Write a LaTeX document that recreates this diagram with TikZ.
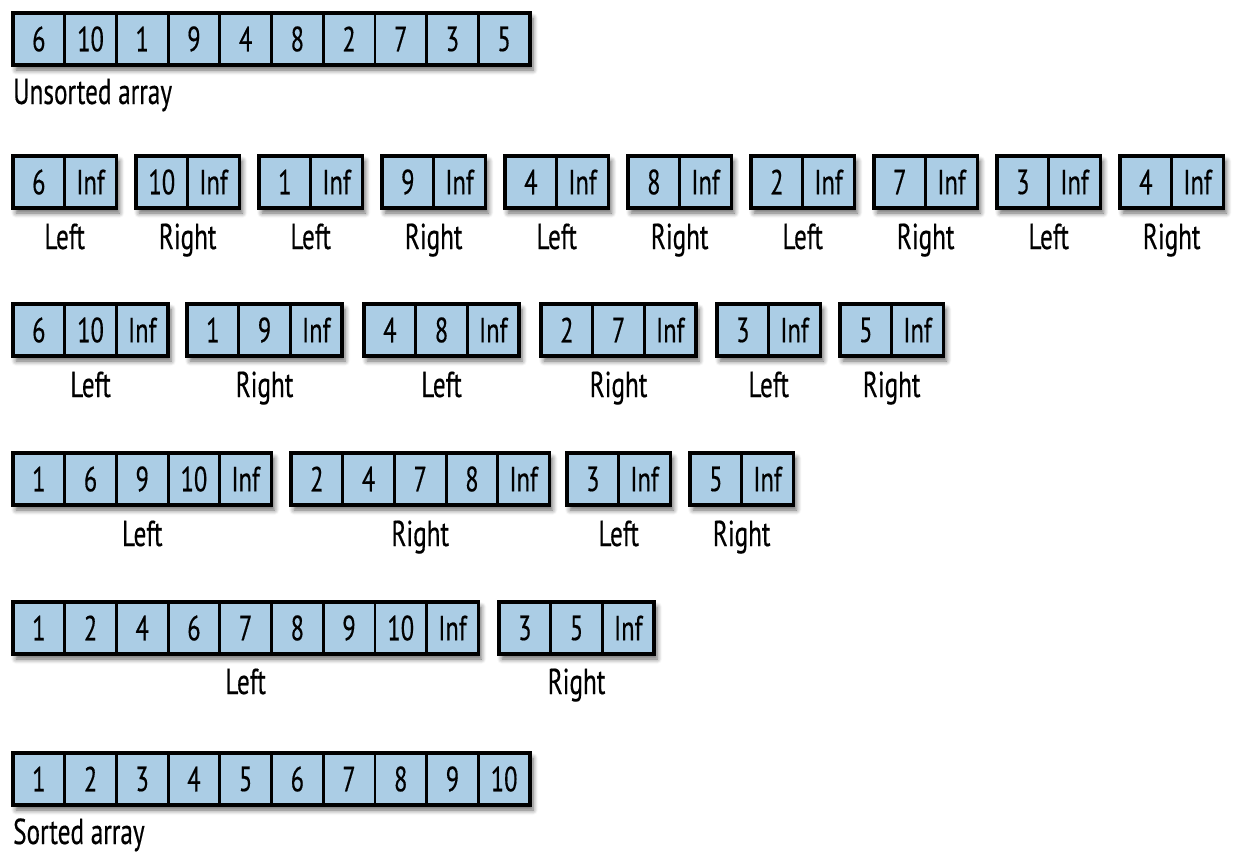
\documentclass[tikz,border=0pt]{standalone}
\usepackage{fontspec}
\setmainfont[FakeStretch=0.7,FakeBold=0.4]{PT Sans}
\usetikzlibrary{shadows.blur}
\definecolor{cellblue}{RGB}{171,205,229}
\tikzset{
  x=1pt,y=-1pt,
  groupbox/.style={fill=cellblue,draw=black,line width=3.6pt,
    blur shadow={shadow xshift=3pt,shadow yshift=-5pt,shadow blur radius=5pt,shadow blur steps=6,shadow opacity=60}},
  cell/.style={draw=black,line width=2.8pt,minimum width=51.7pt,minimum height=52pt,
    inner sep=0pt,outer sep=0pt,font=\fontsize{35}{38}\selectfont},
  lab/.style={anchor=base,inner sep=0pt,font=\fontsize{36}{40}\selectfont},
  caption/.style={anchor=base west,inner sep=0pt,font=\fontsize{36}{40}\selectfont},
}
\newcommand\cw{51.7}
% #1 name, #2 left x, #3 top y, #4 number of cells, #5 list
\newcommand\arrgroup[5]{%
  \path[groupbox] (#2,#3) rectangle ({#2+#4*\cw},{#3+52});
  \foreach \cellval [count=\ci] in {#5} {
    \node[cell] (#1-\ci) at ({#2+(\ci-0.5)*\cw},{#3+26}) {\cellval};
  }
  \draw[line width=3.6pt] (#2,#3) rectangle ({#2+#4*\cw},{#3+52});
}
% #1 name, #2 left x, #3 number of cells, #4 baseline y, #5 text
\newcommand\arrlab[5]{%
  \node[lab] (#1) at ({#2+#3*\cw/2},#4) {#5};
}
\begin{document}
\begin{tikzpicture}
\useasboundingbox (0,0) rectangle (1250,855);
% Row 1
\arrgroup{a}{13}{13}{10}{6,10,1,9,4,8,2,7,3,5}
\node[caption] (unsorted) at (13,104) {Unsorted array};
% Row 2
\arrgroup{b1}{13}{156}{2}{6,Inf}      \arrlab{bl1}{13}{2}{249}{Left}
\arrgroup{b2}{136}{156}{2}{10,Inf}    \arrlab{bl2}{136}{2}{249}{Right}
\arrgroup{b3}{259}{156}{2}{1,Inf}     \arrlab{bl3}{259}{2}{249}{Left}
\arrgroup{b4}{382}{156}{2}{9,Inf}     \arrlab{bl4}{382}{2}{249}{Right}
\arrgroup{b5}{505}{156}{2}{4,Inf}     \arrlab{bl5}{505}{2}{249}{Left}
\arrgroup{b6}{628}{156}{2}{8,Inf}     \arrlab{bl6}{628}{2}{249}{Right}
\arrgroup{b7}{751}{156}{2}{2,Inf}     \arrlab{bl7}{751}{2}{249}{Left}
\arrgroup{b8}{874}{156}{2}{7,Inf}     \arrlab{bl8}{874}{2}{249}{Right}
\arrgroup{b9}{997}{156}{2}{3,Inf}     \arrlab{bl9}{997}{2}{249}{Left}
\arrgroup{b10}{1120}{156}{2}{4,Inf}   \arrlab{bl10}{1120}{2}{249}{Right}
% Row 3
\arrgroup{c1}{13}{304}{3}{6,10,Inf}
\arrlab{cl1}{13}{3}{397}{Left}
\arrgroup{c2}{187}{304}{3}{1,9,Inf}
\arrlab{cl2}{187}{3}{397}{Right}
\arrgroup{c3}{364}{304}{3}{4,8,Inf}
\arrlab{cl3}{364}{3}{397}{Left}
\arrgroup{c4}{541}{304}{3}{2,7,Inf}
\arrlab{cl4}{541}{3}{397}{Right}
\arrgroup{c5}{717}{304}{2}{3,Inf}
\arrlab{cl5}{717}{2}{397}{Left}
\arrgroup{c6}{840}{304}{2}{5,Inf}
\arrlab{cl6}{840}{2}{397}{Right}
% Row 4
\arrgroup{d1}{13}{453}{5}{1,6,9,10,Inf}
\arrlab{dl1}{13}{5}{546}{Left}
\arrgroup{d2}{291}{453}{5}{2,4,7,8,Inf}
\arrlab{dl2}{291}{5}{546}{Right}
\arrgroup{d3}{567}{453}{2}{3,Inf}
\arrlab{dl3}{567}{2}{546}{Left}
\arrgroup{d4}{690}{453}{2}{5,Inf}
\arrlab{dl4}{690}{2}{546}{Right}
% Row 5
\arrgroup{e1}{13}{602}{9}{1,2,4,6,7,8,9,10,Inf}
\arrlab{el1}{13}{9}{694}{Left}
\arrgroup{e2}{499}{602}{3}{3,5,Inf}
\arrlab{el2}{499}{3}{694}{Right}
% Row 6
\arrgroup{f}{13}{753}{10}{1,2,3,4,5,6,7,8,9,10}
\node[caption] (sorted) at (13,844) {Sorted array};
\end{tikzpicture}
\end{document}
